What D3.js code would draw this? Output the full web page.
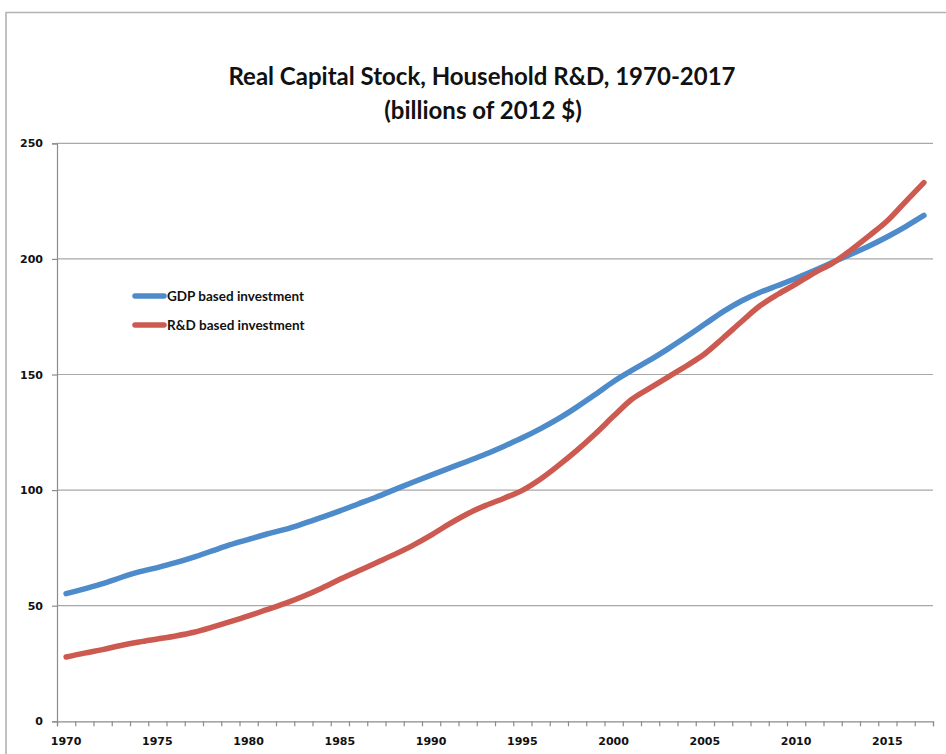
<!DOCTYPE html>
<html>
<head>
<meta charset="utf-8">
<script src="https://cdn.jsdelivr.net/npm/d3@7"></script>
<style>
  html, body { margin: 0; padding: 0; background: #fff; }
  svg { display: block; }
</style>
</head>
<body>
<svg id="chart" width="946" height="754"></svg>
<script>
const title1 = "Real Capital Stock, Household R&D, 1970-2017";
const title2 = "(billions of 2012 $)";
const years = d3.range(1970, 2018);
const yTicks = [0, 50, 100, 150, 200, 250];
const xLabelYears = [1970, 1975, 1980, 1985, 1990, 1995, 2000, 2005, 2010, 2015];
const seriesNames = ["GDP based investment", "R&D based investment"];
const gdpBased = [55.2, 57.3, 59.5, 62.2, 64.6, 66.5, 68.6, 71.0, 73.7, 76.4,
  78.7, 81.0, 83.0, 85.5, 88.2, 91.0, 94.0, 97.0, 100.2, 103.4,
  106.5, 109.5, 112.5, 115.6, 119.0, 122.6, 126.6, 131.0, 136.0, 141.4,
  147.0, 151.8, 156.3, 161.2, 166.4, 171.8, 177.2, 181.8, 185.5, 188.5,
  191.6, 195.0, 198.5, 202.0, 205.6, 209.6, 214.0, 218.8];
const rdBased = [27.8, 29.5, 31.0, 32.8, 34.3, 35.6, 36.9, 38.5, 40.7, 43.1,
  45.6, 48.3, 51.0, 54.1, 57.6, 61.4, 65.0, 68.6, 72.2, 76.1,
  80.5, 85.4, 89.8, 93.4, 96.5, 99.9, 104.8, 110.8, 117.3, 124.4,
  132.0, 139.3, 144.2, 149.0, 153.8, 159.0, 165.8, 172.8, 179.6, 184.7,
  189.2, 194.0, 198.2, 203.8, 210.0, 216.5, 224.8, 233.0];
const colors = ["#4d8bca", "#cc5a51"];

const svg = d3.select("#chart");
const pLeft = 57, pRight = 933, pTop = 143.3, pBottom = 721.3;

// outer chart border
svg.append("path")
  .attr("d", "M6,760 L6,12.5 L950,12.5")
  .attr("fill", "none").attr("stroke", "#b3b3b3").attr("stroke-width", 1.6);

const x = d3.scaleBand().domain(years).range([pLeft, pRight]).paddingInner(0).paddingOuter(0);
const xc = d => x(d) + x.bandwidth() / 2;
const xIdx = d3.scaleLinear().domain([0, years.length]).range([pLeft, pRight]);
const y = d3.scaleLinear().domain([0, 250]).range([pBottom, pTop]);

// gridlines
svg.append("g").selectAll("line").data(yTicks.filter(d => d > 0)).join("line")
  .attr("x1", pLeft).attr("x2", pRight)
  .attr("y1", d => y(d)).attr("y2", d => y(d))
  .attr("stroke", "#a8a8a8").attr("stroke-width", 1.2);

// y axis
const yAxis = svg.append("g").attr("transform", `translate(${pLeft},0)`)
  .call(d3.axisLeft(y).tickValues(yTicks).tickSize(5).tickPadding(9));
yAxis.select(".domain").attr("stroke", "#8c8c8c").attr("stroke-width", 1.2);
yAxis.selectAll(".tick line").attr("stroke", "#8c8c8c").attr("stroke-width", 1.2);
yAxis.selectAll("text").attr("font-family", "DejaVu Sans").attr("font-weight", "bold")
  .attr("font-size", 11).attr("fill", "#111");

// x axis tick marks at category boundaries
const xTicksAxis = svg.append("g").attr("transform", `translate(0,${pBottom})`)
  .call(d3.axisBottom(xIdx).tickValues(d3.range(0, years.length + 1)).tickSize(5).tickFormat(""));
xTicksAxis.select(".domain").attr("stroke", "#8c8c8c").attr("stroke-width", 1.2);
xTicksAxis.selectAll(".tick line").attr("stroke", "#8c8c8c").attr("stroke-width", 1.2);

// x labels
const xLab = svg.append("g").attr("transform", `translate(0,${pBottom})`)
  .call(d3.axisBottom(x).tickValues(xLabelYears).tickSize(0).tickPadding(16));
xLab.select(".domain").remove();
xLab.selectAll("text").attr("font-family", "DejaVu Sans").attr("font-weight", "bold")
  .attr("font-size", 11).attr("fill", "#111");

// lines
const line = d3.line().x((d, i) => xc(years[i])).y(d => y(d)).curve(d3.curveCatmullRom.alpha(0.5));
[gdpBased, rdBased].forEach((s, k) => {
  svg.append("path").datum(s).attr("d", line)
    .attr("fill", "none").attr("stroke", colors[k]).attr("stroke-width", 5.5)
    .attr("stroke-linecap", "round").attr("stroke-linejoin", "round");
});

// legend
const legY = [296, 325];
seriesNames.forEach((n, k) => {
  svg.append("line").attr("x1", 135).attr("x2", 164).attr("y1", legY[k]).attr("y2", legY[k])
    .attr("stroke", colors[k]).attr("stroke-width", 5.5).attr("stroke-linecap", "round");
  svg.append("text").attr("x", 167).attr("y", legY[k] + 4.5)
    .attr("font-family", "Lato").attr("font-weight", "bold").attr("font-size", 13.5)
    .attr("fill", "#111").text(n);
});

// title
svg.append("text").attr("x", 482).attr("y", 85).attr("text-anchor", "middle")
  .attr("font-family", "Lato").attr("font-weight", "bold").attr("font-size", 24)
  .attr("fill", "#111").text(title1);
svg.append("text").attr("x", 483).attr("y", 119).attr("text-anchor", "middle")
  .attr("font-family", "Lato").attr("font-weight", "bold").attr("font-size", 24)
  .attr("fill", "#111").text(title2);
</script>
</body>
</html>
